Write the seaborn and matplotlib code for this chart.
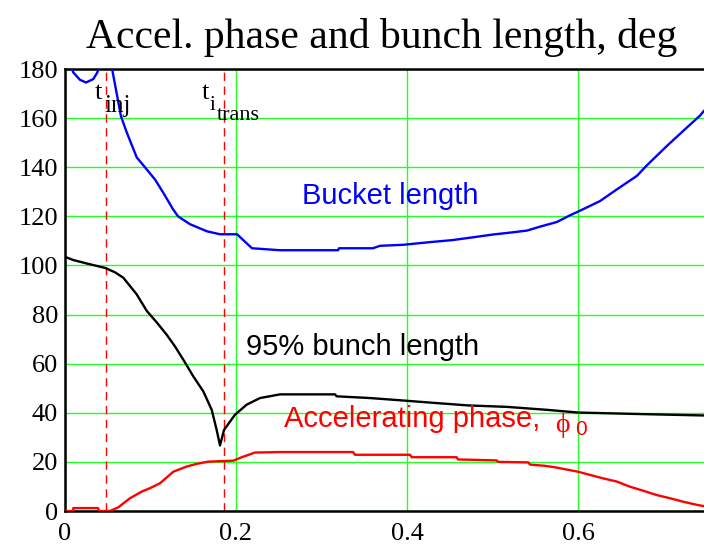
import matplotlib
matplotlib.use("Agg")
import matplotlib.pyplot as plt
import seaborn as sns
import pandas as pd

# ---------------- data ----------------
bucket1_x = [0.006, 0.0097, 0.0175, 0.0246, 0.0331, 0.0378, 0.041]
bucket1_y = [182, 178.6, 175.6, 174.5, 175.9, 178.6, 182]

bucket2_x = [0.0544, 0.0558, 0.0655, 0.0722, 0.0839, 0.0916, 0.1053, 0.1146,
             0.1263, 0.1322, 0.1462, 0.1661, 0.1813, 0.2012, 0.2187, 0.2515, 0.3193,
             0.3205, 0.3602, 0.3684, 0.3953, 0.4269, 0.4526, 0.4760, 0.5006, 0.524,
             0.5404, 0.5556, 0.5754, 0.5906, 0.6, 0.6257, 0.6456, 0.669, 0.6807,
             0.7041, 0.7275, 0.7427, 0.7474]
bucket2_y = [182, 178.7, 160.7, 154.2, 144, 140.8, 135, 129.8,
             122.9, 120, 116.8, 113.9, 112.7, 112.7, 107, 106.2, 106.2,
             107, 107, 108, 108.4, 109.5, 110.3, 111.4, 112.6, 113.5,
             114.2, 115.8, 117.7, 120.4, 121.9, 126.2, 131, 136.5, 140.8,
             148.7, 156.2, 161, 163]

bunch_x = [0, 0.0097, 0.0254, 0.0468, 0.0585, 0.0682, 0.0839, 0.0956, 0.1073, 0.1189,
           0.1287, 0.1384, 0.1501, 0.1618, 0.1716, 0.1774, 0.1813, 0.186, 0.1988,
           0.2125, 0.2281, 0.2515, 0.3158, 0.3178, 0.3567, 0.3953, 0.4327, 0.4713,
           0.5170, 0.5637, 0.6, 0.6702, 0.7474]
bunch_y = [103.5, 102.2, 100.8, 99, 97.2, 95, 88.2, 81.5, 76.8, 71.8,
           67, 61.6, 54.8, 48.7, 41.2, 33, 26.7, 33, 39.2,
           43.3, 46, 47.5, 47.5, 46.7, 46, 45, 44, 43,
           42.4, 41.2, 40.1, 39.5, 38.9]

phase_x = [0, 0.0097, 0.0097, 0.0386, 0.0398, 0.0526, 0.0624, 0.0760, 0.0897, 0.0994,
           0.1111, 0.1267, 0.1423, 0.1540, 0.1676, 0.1969, 0.2067, 0.2222, 0.2515,
           0.3368, 0.3392, 0.4035, 0.4055, 0.4581, 0.4596, 0.5049, 0.5064, 0.5418,
           0.5439, 0.5614, 0.5731, 0.6, 0.6140, 0.6292, 0.6453, 0.6608, 0.6760,
           0.6920, 0.7076, 0.7228, 0.7404, 0.7474]
phase_y = [0, 0, 1.2, 1.2, 0, 0, 1.5, 5.2, 7.9, 9.3,
           11.3, 16, 18.1, 19.2, 20.1, 20.5, 21.9, 23.8, 24.0,
           24.0, 22.9, 22.9, 21.9, 21.9, 21.0, 20.6, 20.0, 19.8,
           18.9, 18.4, 17.8, 16, 14.7, 13.3, 12, 9.9, 8.3,
           6.5, 5.2, 3.8, 2.4, 2]

t_inj = 0.048
t_trans = 0.1863

x_ticks = [0, 0.2, 0.4, 0.6]
x_tick_labels = ["0", "0.2", "0.4", "0.6"]
y_ticks = [0, 20, 40, 60, 80, 100, 120, 140, 160, 180]

# ---------------- figure ----------------
sns.set_style("white")
plt.rcParams['font.family'] = ['DejaVu Sans']
plt.rcParams['text.color'] = 'black'

fig = plt.figure(figsize=(7.04, 5.54), dpi=100)
ax = fig.add_axes([65/704, 43/554, 639/704, 442/554])

GREEN = '#22ff22'
ax.set_xlim(0, 0.7474)
ax.set_ylim(0, 180)
ax.set_xticks(x_ticks)
ax.set_xticklabels(x_tick_labels)
ax.set_yticks(y_ticks)
ax.grid(True, color=GREEN, linewidth=1.0)
ax.set_axisbelow(True)

for s in ['left', 'bottom', 'top']:
    ax.spines[s].set_color('black')
    ax.spines[s].set_linewidth(1.8)
ax.spines['right'].set_visible(False)

ax.tick_params(axis='y', length=0, pad=5)
ax.tick_params(axis='x', length=0, pad=9)
for lab in ax.get_xticklabels() + ax.get_yticklabels():
    lab.set_family('Liberation Serif')
    lab.set_fontsize(19)
    lab.set_color('black')

# vertical dashed markers
ax.axvline(t_inj, color='red', lw=1.0, dashes=(6, 4), zorder=1.5)
ax.axvline(t_trans, color='red', lw=1.0, dashes=(6, 4), zorder=1.5)

df_b1 = pd.DataFrame({'t': bucket1_x, 'v': bucket1_y})
df_b2 = pd.DataFrame({'t': bucket2_x, 'v': bucket2_y})
df_bl = pd.DataFrame({'t': bunch_x, 'v': bunch_y})
df_ph = pd.DataFrame({'t': phase_x, 'v': phase_y})

for d, c in [(df_b1, 'blue'), (df_b2, 'blue'), (df_bl, 'black'), (df_ph, 'red')]:
    sns.lineplot(data=d, x='t', y='v', color=c, linewidth=1.7, sort=False,
                 estimator=None, ax=ax, zorder=3)

ax.set_xlabel('')
ax.set_ylabel('')

# pixel -> data helper for label placement
def px(xp, yp):
    return ((xp - 65) / 855.0, (511 - yp) / 2.4556)

serif = ['Liberation Serif', 'DejaVu Serif']
sans = ['Liberation Sans', 'DejaVu Sans']

x0, y0 = px(95, 99)
ax.text(x0, y0, 't', family=serif, fontsize=19, color='black', ha='left', va='baseline')
x0, y0 = px(104, 112)
ax.text(x0, y0, 'inj', family=serif, fontsize=18, color='black', ha='left', va='baseline')

x0, y0 = px(202, 99)
ax.text(x0, y0, 't', family=serif, fontsize=19, color='black', ha='left', va='baseline')
x0, y0 = px(210, 110)
ax.text(x0, y0, 'i', family=serif, fontsize=15, color='black', ha='left', va='baseline')
x0, y0 = px(217, 120)
ax.text(x0, y0, 'trans', family=serif, fontsize=16, color='black', ha='left', va='baseline')

x0, y0 = px(302, 204)
ax.text(x0, y0, 'Bucket length', family=sans, fontsize=21, color='blue',
        ha='left', va='baseline')
x0, y0 = px(246, 355)
ax.text(x0, y0, '95% bunch length', family=sans, fontsize=21, color='black',
        ha='left', va='baseline')
x0, y0 = px(284, 427)
ax.text(x0, y0, 'Accelerating phase,', family=sans, fontsize=21, color='red',
        ha='left', va='baseline')
x0, y0 = px(555, 432)
ax.text(x0, y0, '\u03d5', family=serif, fontsize=20, color='red',
        ha='left', va='baseline')
x0, y0 = px(575, 435)
ax.text(x0, y0, '0', family=sans, fontsize=15, color='red',
        ha='left', va='baseline')

fig.text(382/704, 1 - 48/554, 'Accel. phase and bunch length, deg',
         family=serif, fontsize=30, color='black', ha='center', va='baseline')

fig.savefig('out.png', dpi=100)
